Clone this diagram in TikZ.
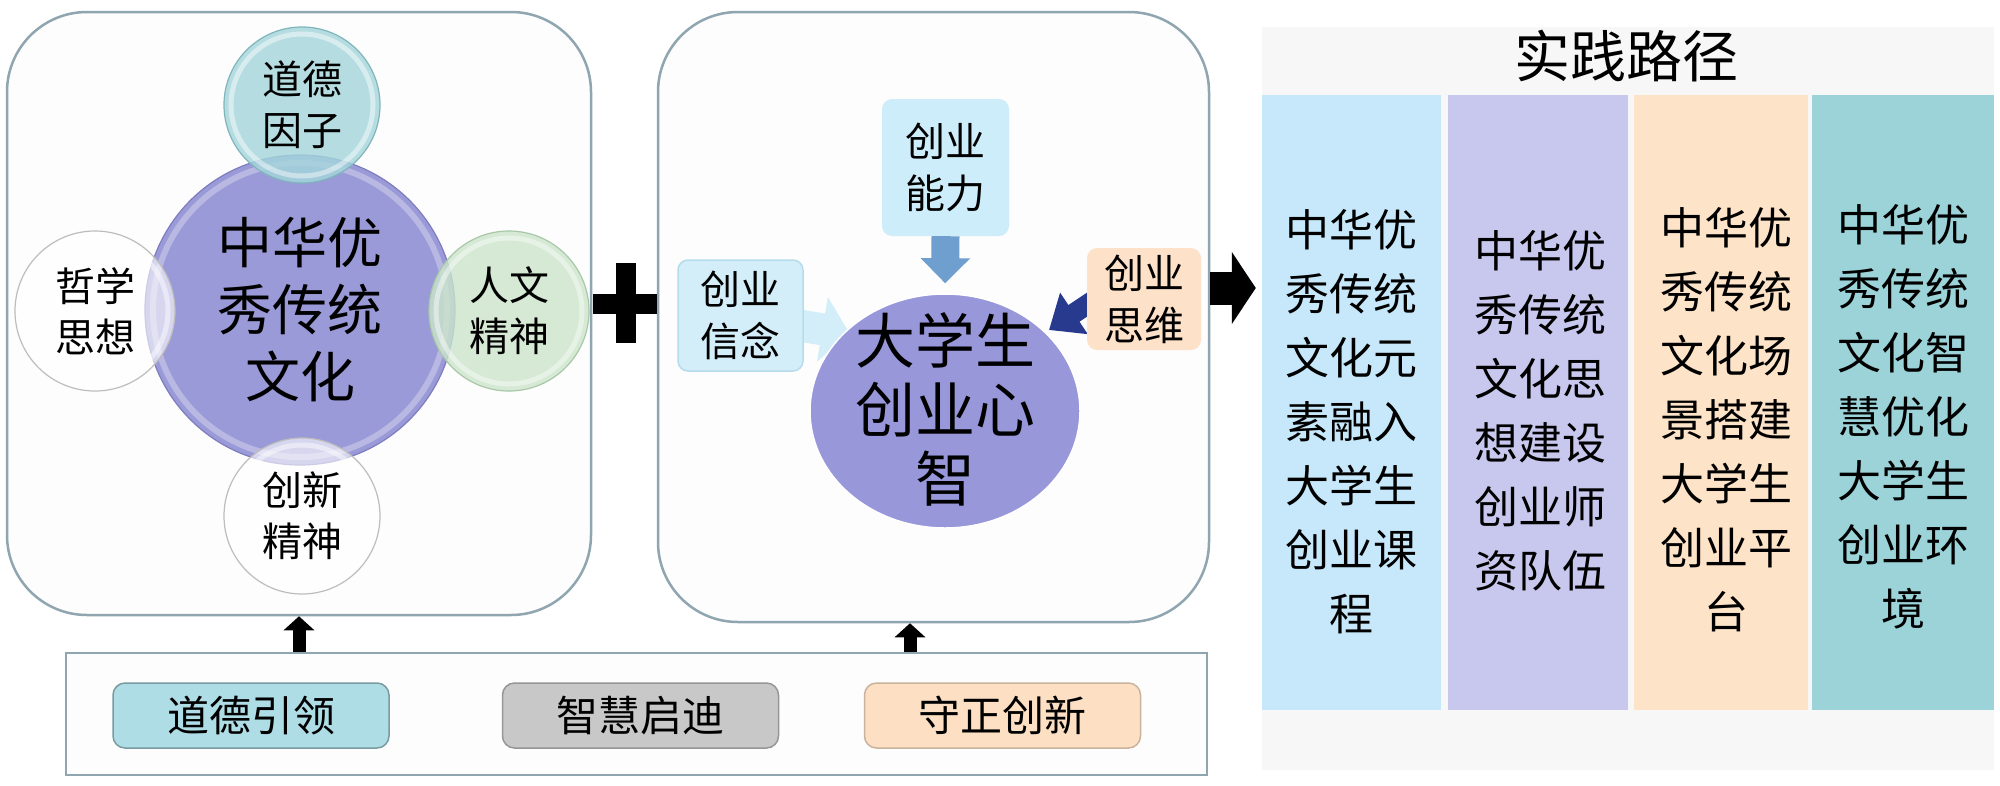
\documentclass[tikz,border=0pt]{standalone}
\usepackage{fontspec}
\setmainfont{Noto Sans CJK SC}
\usetikzlibrary{arrows.meta,shapes.geometric}
\definecolor{frame}{HTML}{8FA5AF}
\definecolor{boxfill}{HTML}{FDFDFD}
\definecolor{bigc}{HTML}{9A9AD8}
\definecolor{bigd}{HTML}{7D7DC0}
\definecolor{tealc}{HTML}{A3D6DB}
\definecolor{teald}{HTML}{7FB5BB}
\definecolor{greenc}{HTML}{CBE5CB}
\definecolor{greend}{HTML}{A8C8A8}
\definecolor{whited}{HTML}{BDBDBD}
\definecolor{ellc}{HTML}{9797DA}
\definecolor{capc}{HTML}{CDEDFA}
\definecolor{belc}{HTML}{D3EEF9}
\definecolor{beld}{HTML}{B5DCEB}
\definecolor{thkc}{HTML}{FDE1C8}
\definecolor{steel}{HTML}{6F9FCF}
\definecolor{navyc}{HTML}{283A8E}
\definecolor{panelc}{HTML}{F7F7F7}
\definecolor{cola}{HTML}{C6E8FA}
\definecolor{colb}{HTML}{C8C8EE}
\definecolor{colc}{HTML}{FDE3C7}
\definecolor{cold}{HTML}{9BD3D9}
\definecolor{bota}{HTML}{AEDDE6}
\definecolor{botb}{HTML}{C8C8C8}
\definecolor{botc}{HTML}{FDE0C4}
\pgfdeclarelayer{back}
\pgfdeclarelayer{arrowlayer}
\pgfsetlayers{back,arrowlayer,main}
\tikzset{
  panelbox/.style={draw=frame, line width=2.5pt, fill=boxfill, rounded corners=80pt, inner sep=0pt},
  orb/.style={circle, minimum size=#1, inner sep=0pt, align=center, line width=1.2pt,
    font=\fontsize{40}{51}\selectfont, text=black},
  smallbox/.style={rounded corners=10pt, inner sep=0pt, align=center,
    font=\fontsize{40}{52}\selectfont},
  colbox/.style={inner sep=0pt, minimum height=615pt},
  coltext/.style={align=center, inner sep=0pt, font=\fontsize{44}{64}\selectfont},
  botbox/.style={rounded corners=12pt, inner sep=0pt, minimum width=276pt, minimum height=65pt,
    line width=1.5pt, font=\fontsize{42}{46}\selectfont},
  fatup/.style={line width=13pt, -{Triangle[length=14pt,width=30pt]}},
}
\begin{document}
\begin{tikzpicture}[x=1pt,y=-1pt]
\useasboundingbox (0,0) rectangle (2000,785);
\begin{pgfonlayer}{back}
\fill[white] (0,0) rectangle (2000,785);
\node[panelbox, minimum width=584pt, minimum height=603pt] (leftbox) at (299,313.5) {};
\node[panelbox, minimum width=551pt, minimum height=610pt] (midbox) at (933.5,317) {};
\node[draw=frame, line width=2.5pt, fill=boxfill, inner sep=0pt, minimum width=1141pt, minimum height=122pt] (bottombox) at (636.5,714) {};
\node[fill=panelc, inner sep=0pt, minimum width=732pt, minimum height=743pt] (panel) at (1628,398.5) {};
\end{pgfonlayer}

% plus sign
\fill[black] (616,263) rectangle (636,343);
\fill[black] (593,294) rectangle (657,314);

% left: core circle and satellites
\node[orb=310pt, fill=bigc, draw=bigd, font=\fontsize{55}{67}\selectfont] (core) at (300,310) {中华优\\秀传统\\文化};
\draw[white, opacity=0.3, line width=6pt] (core.center) circle[radius=147pt];
\node[orb=156pt, fill=tealc, fill opacity=0.8, text opacity=1, draw=teald] (moral) at (302,105) {道德\\因子};
\node[orb=160pt, fill=white, fill opacity=0.6, text opacity=1, draw=whited] (philo) at (95,311) {哲学\\思想};
\node[orb=160pt, fill=greenc, fill opacity=0.8, text opacity=1, draw=greend] (human) at (509,311) {人文\\精神};
\node[orb=156pt, fill=white, fill opacity=0.6, text opacity=1, draw=whited] (innov) at (302,516) {创新\\精神};
\foreach \n/\r in {moral/71pt, philo/73pt, human/73pt, innov/71pt}
  \draw[white, opacity=0.45, line width=5pt] (\n.center) circle[radius=\r];

% middle: mind ellipse and inputs
\node[smallbox, fill=capc, minimum width=127pt, minimum height=137pt] (ability) at (945.5,167.5) {创业\\能力};
\node[smallbox, fill=belc, draw=beld, line width=1.5pt, minimum width=125pt, minimum height=111pt] (belief) at (740.5,315.5) {创业\\信念};
\node[smallbox, fill=thkc, minimum width=114pt, minimum height=102pt] (think) at (1144,299) {创业\\思维};
\node[ellipse, fill=ellc, draw=white, line width=1.5pt, minimum width=270pt, minimum height=234pt, inner sep=0pt] (mind) at (945,411) {};
\node[align=center, inner sep=0pt, font=\fontsize{60}{69}\selectfont] (mindt) at (945,409) {大学生\\创业心\\智};
\coordinate (belieftip) at (850,334);
\coordinate (navytail) at (1112,288);
\coordinate (navytip) at (1049,330);
\begin{pgfonlayer}{arrowlayer}
\draw[line width=32pt, color=belc, -{Triangle[length=28pt,width=64pt]}] (belief.center) -- (belieftip);
\draw[line width=20pt, color=navyc, -{Triangle[length=30pt,width=48pt]}] (navytail) -- (navytip);
\end{pgfonlayer}
\draw[line width=28pt, color=steel, -{Triangle[length=25pt,width=48pt]}, shorten >=10pt] (ability.south) -- (mind.north);

% big arrow to the paths
\draw[line width=33pt, black, -{Triangle[length=24pt,width=71pt]}, shorten >=6pt] ([yshift=29pt]midbox.east) -- ([yshift=29pt]midbox.east -| panel.west);

% up arrows from the bottom box
\coordinate (upb) at (910,0);
\draw[fatup] (bottombox.north -| leftbox.south) -- (leftbox.south);
\draw[fatup] (bottombox.north -| upb) -- (midbox.south -| upb);

% bottom principles
\node[botbox, fill=bota, draw=bota!70!black] (lead) at (251,715.5) {道德引领};
\node[botbox, fill=botb, draw=botb!75!black] (wisdom) at (640.5,715.5) {智慧启迪};
\node[botbox, fill=botc, draw=botc!80!black] (keep) at (1002.5,715.5) {守正创新};

% practice paths
\node[font=\fontsize{56}{60}\selectfont, inner sep=0pt] (title) at (1626,56) {实践路径};
\node[colbox, fill=cola, minimum width=179pt] (pa) at (1351.5,402.5) {};
\node[colbox, fill=colb, minimum width=180pt] (pb) at (1538,402.5) {};
\node[colbox, fill=colc, minimum width=174pt] (pc) at (1721,402.5) {};
\node[colbox, fill=cold, minimum width=182pt] (pd) at (1903,402.5) {};
\node[coltext] (pat) at (1351,422) {中华优\\秀传统\\文化元\\素融入\\大学生\\创业课\\程};
\node[coltext] (pbt) at (1540,411) {中华优\\秀传统\\文化思\\想建设\\创业师\\资队伍};
\node[coltext] (pct) at (1726,420) {中华优\\秀传统\\文化场\\景搭建\\大学生\\创业平\\台};
\node[coltext] (pdt) at (1903,417) {中华优\\秀传统\\文化智\\慧优化\\大学生\\创业环\\境};
\end{tikzpicture}
\end{document}
